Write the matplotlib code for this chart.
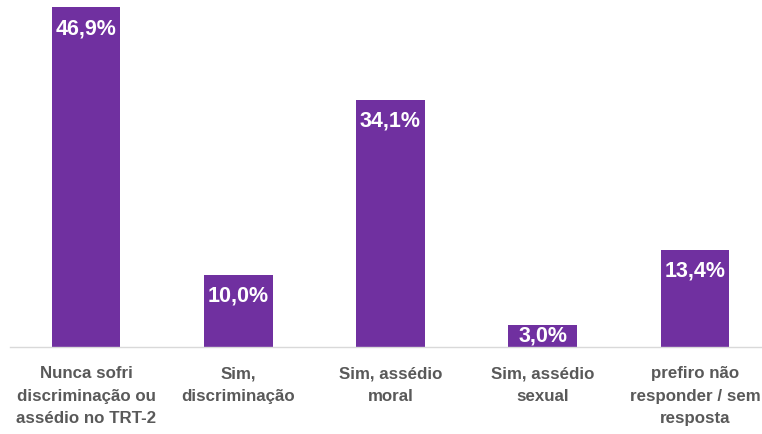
import matplotlib
matplotlib.use('Agg')
import matplotlib.pyplot as plt

categories = ['Nunca sofri\ndiscriminação ou\nassédio no TRT-2',
              'Sim,\ndiscriminação',
              'Sim, assédio\nmoral',
              'Sim, assédio\nsexual',
              'prefiro não\nresponder / sem\nresposta']
values = [46.9, 10.0, 34.1, 3.0, 13.4]
labels = ['46,9%', '10,0%', '34,1%', '3,0%', '13,4%']

W, H = 762, 434
fig = plt.figure(figsize=(W / 100, H / 100), dpi=100)
ax = fig.add_axes([10 / W, 87 / H, 761 / W, 347 / H])

x = list(range(len(values)))
bars = ax.bar(x, values, width=0.45, color='#7030A0', zorder=2)

ax.set_xlim(-0.5, 4.5)
ax.set_ylim(0, 347 / 7.25)

for s in ['top', 'right', 'left']:
    ax.spines[s].set_visible(False)
ax.spines['bottom'].set_color('#D9D9D9')
ax.spines['bottom'].set_linewidth(1.0)
ax.set_yticks([])
ax.set_xticks(x)
ax.set_xticklabels(categories, fontsize=12.2, fontweight='bold', color='#595959',
                   family='Liberation Sans', linespacing=1.6)
ax.tick_params(axis='x', length=0, pad=14)

for b, v, lab in zip(bars, values, labels):
    cx = b.get_x() + b.get_width() / 2
    if v < 5:
        ax.text(cx, v / 2, lab, ha='center', va='center', color='white',
                fontsize=15.5, fontweight='bold', family='Liberation Sans')
    else:
        ax.annotate(lab, (cx, v), xytext=(0, -8), textcoords='offset points',
                    ha='center', va='top', color='white', fontsize=15.5,
                    fontweight='bold', family='Liberation Sans')

fig.savefig('out.png', dpi=100)
